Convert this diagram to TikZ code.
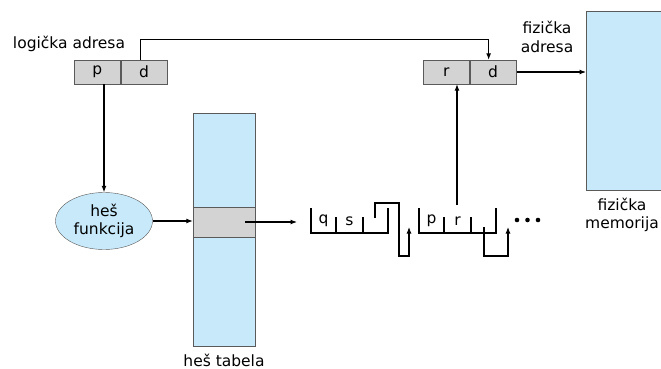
\documentclass[tikz,border=0pt]{standalone}
\usepackage{fontspec}
\setmainfont{DejaVu Sans}
\usepackage[svgnames]{xcolor}
\usepackage{tikz}
\usetikzlibrary{
  arrows.meta,
  shapes.geometric}

\definecolor{memblue}{RGB}{199,233,249}
\definecolor{cellgray}{RGB}{211,211,211}
\definecolor{edgegray}{RGB}{90,90,90}

\begin{document}
\begin{tikzpicture}[x=1pt,y=-1pt]
\tikzset{
  every node/.style={
    font=\fontsize{15.5}{18.5}\selectfont,
    inner sep=0pt,
  },
  field/.style={
    draw=edgegray,
    fill=cellgray,
    minimum width=46.5pt,
    minimum height=24pt,
  },
  arr/.style={
    -{Latex[length=6.5pt,width=5pt]},
    line width=1.1pt,
  },
  lst/.style={
    line width=1.1pt,
  },
}
\useasboundingbox (0,0) rectangle (661,369);

% logicka adresa
\node (lname) at (69,44) {logička adresa};
\node[field] (p) at (97.25,72) {p};
\node[field,anchor=west] (d) at (p.east) {d};

% fizicka adresa
\node[field] (r) at (446.25,72) {r};
\node[field,anchor=west] (d2) at (r.east) {d};
\node[align=center] (fname) at (547,37) {fizička\\adresa};

% memorija
\node[draw=edgegray,fill=memblue,anchor=north west,
  minimum width=84pt,minimum height=179pt] (mem) at (586,11) {};
\node[align=center] (mname) at (622,215) {fizička\\memorija};

% hes funkcija i tabela
\node[ellipse,draw=edgegray,fill=memblue,minimum width=97pt,
  minimum height=57pt,align=center] (hash) at (104,221) {heš\\funkcija};
\node[draw=edgegray,fill=memblue,minimum width=62pt,
  minimum height=233pt] (tab) at (224,229.5) {};
\node[draw=edgegray,fill=cellgray,minimum width=62pt,
  minimum height=30pt] (band) at (224,222) {};
\node (tname) at (224,360) {heš tabela};

% lista
\foreach[count=\k] \x/\a/\b in {311/q/s,419/p/r} {
  \draw[lst] (\x,208) -- (\x,233) -- (\x+77,233) -- (\x+77,208);
  \draw[lst] (\x+25,217) -- (\x+25,233) (\x+52,217) -- (\x+52,233);
  \node (key\k) at (\x+12.5,221) {\a};
  \node (val\k) at (\x+38.5,221) {\b};
}
\coordinate (head) at (297,222);
\coordinate (ptr1) at (375,218);
\coordinate (ptr2) at (484,227);
\coordinate (frame) at (457,205);
\foreach \k in {517,527.5,538}
  \fill (\k,220) circle (2.3pt);

% veze
\draw[arr] ([xshift=-3.5pt]d.north) -- ++(0,-20) -| ([xshift=-4.5pt]d2.north);
\draw[arr] (p.south -| hash.north) -- (hash.north);
\draw[arr] (d2.east) -- (mem.west |- d2.east);
\draw[arr] (hash.east) -- (tab.west |- hash.east);
\draw[arr] (245,222) -- (head);
\draw[arr] (ptr1) -- (375,203) -- (399,203) -- (399,256) -- (409,256) -- (409,227);
\draw[arr] (ptr2) -- (484,256) -- (508,256) -- (508,227);
\draw[arr] (frame) -- (frame |- r.south);
\end{tikzpicture}
\end{document}
